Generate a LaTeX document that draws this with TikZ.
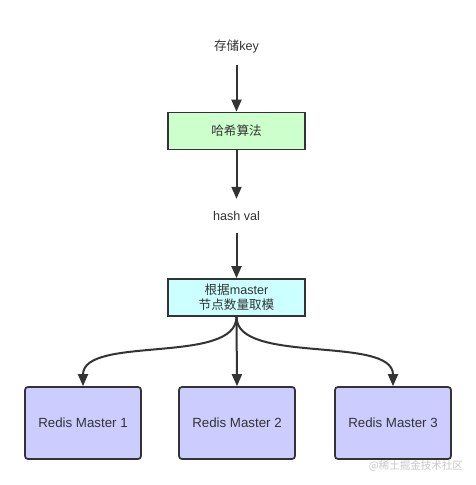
\documentclass[tikz,border=0pt]{standalone}
\usepackage{fontspec}
\setmainfont{Liberation Sans}
\newfontfamily\cjk{Noto Sans CJK SC}
\usetikzlibrary{arrows.meta}
\definecolor{edge}{HTML}{333333}
\definecolor{greenfill}{HTML}{CCFFCC}
\definecolor{cyanfill}{HTML}{CCFFFF}
\definecolor{purplefill}{HTML}{CCCCFF}
\definecolor{wm}{HTML}{C8C8C8}
\tikzset{
  lbl/.style={text=edge, font=\fontsize{12.6}{15}\selectfont, inner sep=0pt, align=center},
  procbox/.style={draw=edge, line width=1.7pt, minimum width=137pt, minimum height=37pt, inner sep=0pt, text=edge, font=\fontsize{12.6}{15}\selectfont, align=center},
  redisbox/.style={draw=edge, fill=purplefill, line width=1.7pt, rounded corners=3pt, minimum width=116pt, minimum height=72pt, inner sep=0pt, text=edge, font=\fontsize{13.3}{15}\selectfont},
  conn/.style={draw=edge, line width=2pt, -{Triangle[width=10pt,length=12pt]}},
}
\begin{document}
\begin{tikzpicture}[x=1pt,y=-1pt]
\useasboundingbox (0,0) rectangle (476,485);
\fill[white] (0,0) rectangle (476,485);
\node[lbl, minimum height=36pt] (key) at (236.5,47) {{\cjk 存储}key};
\node[procbox, fill=greenfill] (hash) at (236.5,131) {\cjk 哈希算法};
\node[lbl, minimum height=34pt] (val) at (236.5,216) {hash val};
\node[procbox, fill=cyanfill] (mod) at (236.5,297.5) {{\cjk 根据}master\\{\cjk 节点数量取模}};
\node[redisbox] (r1) at (83,423) {Redis Master 1};
\node[redisbox] (r2) at (237,423) {Redis Master 2};
\node[redisbox] (r3) at (393,423) {Redis Master 3};
\node[anchor=east, text=wm, inner sep=0pt, font=\cjk\fontsize{10.5}{12}\selectfont] (wmk) at (463,466) {@稀土掘金技术社区};
\draw[conn] (key.south) -- (hash.north);
\draw[conn] (hash.south) -- (val.north);
\draw[conn] (val.south) -- (mod.north);
\draw[conn] (mod.south) .. controls (236.5,365) and (83,335) .. (r1.north);
\draw[conn] (mod.south) -- (r2.north);
\draw[conn] (mod.south) .. controls (236.5,365) and (393,335) .. (r3.north);
\end{tikzpicture}
\end{document}
